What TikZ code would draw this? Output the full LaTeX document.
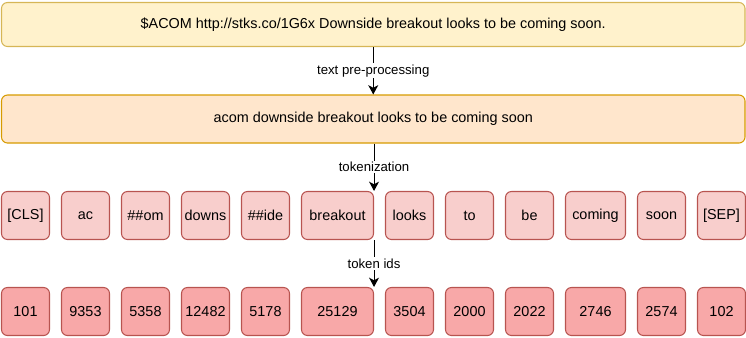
\documentclass[tikz,border=0pt]{standalone}
\usepackage{fontspec}
\setmainfont{Liberation Sans}
\usetikzlibrary{arrows.meta}
\definecolor{ylwfill}{HTML}{FFF2CC}
\definecolor{ylwdraw}{HTML}{D6B656}
\definecolor{orgfill}{HTML}{FFE6CC}
\definecolor{orgdraw}{HTML}{D79B00}
\definecolor{tokfill}{HTML}{F8CECC}
\definecolor{tokdraw}{HTML}{B85450}
\definecolor{idfill}{HTML}{F8A8A8}
\tikzset{
  box/.style={rectangle, rounded corners=4.5pt, line width=0.8pt, inner sep=0pt,
    font=\fontsize{10.8pt}{13pt}\selectfont, minimum height=36pt},
  rawbox/.style={box, fill=ylwfill, draw=ylwdraw, minimum height=33pt},
  cleanbox/.style={box, fill=orgfill, draw=orgdraw},
  tokbox/.style={box, fill=tokfill, draw=tokdraw},
  idbox/.style={box, fill=idfill, draw=tokdraw},
  conn/.style={line width=0.8pt, draw=black, -{Stealth[length=7pt,width=7.5pt,inset=2pt]}},
  lbl/.style={fill=white, inner sep=1pt, font=\fontsize{9.9pt}{12pt}\selectfont}
}
\begin{document}
\begin{tikzpicture}[x=0.75pt,y=-0.75pt]
\useasboundingbox (0,0) rectangle (746,337);
\node[rawbox, minimum width=743.5*0.75pt] (raw) at (373.25,24.5) {\$ACOM http://stks.co/1G6x Downside breakout looks to be coming soon.};
\node[cleanbox, minimum width=743.5*0.75pt] (clean) at (373.25,119) {acom downside breakout looks to be coming soon};
% tokens
\foreach \nm/\txt/\l/\w in {t1/{[CLS]}/1.5/48, t2/ac/61.5/48, t3/\#\#om/121.5/48, t4/downs/181.5/48, t5/\#\#ide/241.5/48, t6/breakout/301.5/72, t7/looks/385.5/48, t8/to/445.5/48, t9/be/505.5/48, t10/coming/565.5/60, t11/soon/637.5/48, t12/{[SEP]}/697.5/48}{
  \node[tokbox, minimum width=\w*0.75pt] (\nm) at (\l+\w/2,215.5) {\txt};
}
\foreach \nm/\txt/\l/\w in {i1/101/1.5/48, i2/9353/61.5/48, i3/5358/121.5/48, i4/12482/181.5/48, i5/5178/241.5/48, i6/25129/301.5/72, i7/3504/385.5/48, i8/2000/445.5/48, i9/2022/505.5/48, i10/2746/565.5/60, i11/2574/637.5/48, i12/102/697.5/48}{
  \node[idbox, minimum width=\w*0.75pt] (\nm) at (\l+\w/2,311.5) {\txt};
}
\draw[conn] (raw.south) -- node[lbl] {text pre-processing} (clean.north);
\draw[conn] (clean.south -| t6.north east) -- node[lbl] {tokenization} (t6.north east);
\draw[conn] (t6.south east) -- node[lbl] {token ids} (i6.north east);
\end{tikzpicture}
\end{document}
